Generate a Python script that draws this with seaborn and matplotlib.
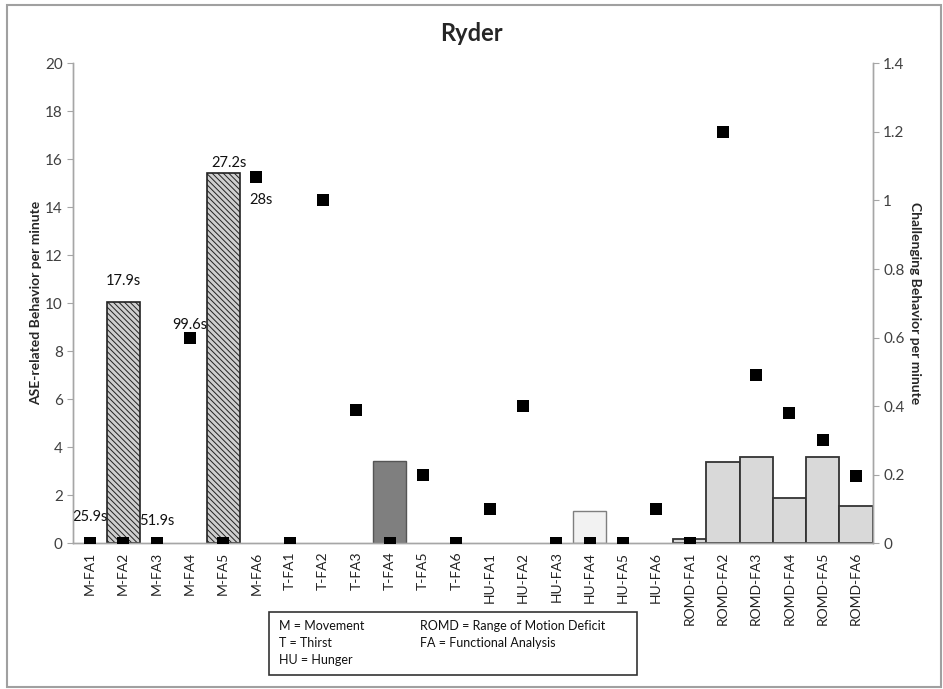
import matplotlib
matplotlib.use("Agg")
import matplotlib.pyplot as plt
import seaborn as sns
import numpy as np
import pandas as pd
from matplotlib.patches import Rectangle

categories = ["M-FA1", "M-FA2", "M-FA3", "M-FA4", "M-FA5", "M-FA6",
              "T-FA1", "T-FA2", "T-FA3", "T-FA4", "T-FA5", "T-FA6",
              "HU-FA1", "HU-FA2", "HU-FA3", "HU-FA4", "HU-FA5", "HU-FA6",
              "ROMD-FA1", "ROMD-FA2", "ROMD-FA3", "ROMD-FA4", "ROMD-FA5", "ROMD-FA6"]
ase_per_min = [0, 10.05, 0, 0, 15.45, 0,
               0, 0, 0, 3.43, 0, 0,
               0, 0, 0, 1.35, 0, 0,
               0.18, 3.4, 3.6, 1.9, 3.6, 1.57]
challenging_per_min = [0, 0, 0, 0.6, 0, 1.07,
                       0, 1.0, 0.39, 0, 0.2, 0,
                       0.1, 0.4, 0, 0, 0, 0.1,
                       0, 1.2, 0.49, 0.38, 0.3, 0.195]
groups = ["M"] * 6 + ["T"] * 6 + ["HU"] * 6 + ["ROMD"] * 6
# duration annotations: (category, text, y on left axis)
annot_cats = ["M-FA1", "M-FA2", "M-FA3", "M-FA4", "M-FA5", "M-FA6"]
annot_text = ["25.9s", "17.9s", "51.9s", "99.6s", "27.2s", "28s"]
annot_y = [1.1, 10.95, 0.92, 9.1, 15.85, 14.3]
annot_dx = [0, 0, 0, 0, 0.18, 0.15]
legend_left = ["M = Movement", "T = Thirst", "HU = Hunger"]
legend_right = ["ROMD = Range of Motion Deficit", "FA = Functional Analysis"]

sns.set_style("white")
plt.rcParams['font.family'] = ['Lato', 'DejaVu Sans']
plt.rcParams['hatch.linewidth'] = 0.7
plt.rcParams['hatch.color'] = '#3a3a3a'

df = pd.DataFrame({"cat": categories, "ase": ase_per_min,
                   "cb": challenging_per_min, "grp": groups})

fig = plt.figure(figsize=(9.43, 6.89), dpi=100)
ax = fig.add_axes([0.0777, 0.2115, 0.8478, 0.6965])

sns.barplot(data=df, x="cat", y="ase", ax=ax, width=1.0, color="white",
            order=categories, errorbar=None, saturation=1)

styles = {
    "M": dict(facecolor="#cfcfcf", edgecolor="#222222", hatch="\\\\\\\\\\\\", lw=1.2),
    "T": dict(facecolor="#7f7f7f", edgecolor="#555555", hatch=None, lw=1.0),
    "HU": dict(facecolor="#f2f2f2", edgecolor="#7f7f7f", hatch=None, lw=1.0),
    "ROMD": dict(facecolor="#d9d9d9", edgecolor="#333333", hatch=None, lw=1.3),
}
for patch, g, v in zip(ax.patches, groups, ase_per_min):
    s = styles[g]
    patch.set_facecolor(s["facecolor"])
    patch.set_edgecolor(s["edgecolor"])
    patch.set_linewidth(s["lw"] if v > 0 else 0)
    if s["hatch"]:
        patch.set_hatch(s["hatch"])

ax.set_ylim(0, 20)
ax.set_xlim(-0.5, len(categories) - 0.5)
ax.set_yticks(np.arange(0, 21, 2))
ax.set_ylabel("ASE-related Behavior per minute", fontsize=10, fontweight="bold",
              labelpad=2)
ax.set_xlabel("")

ax2 = ax.twinx()
sns.stripplot(data=df, x="cat", y="cb", ax=ax2, order=categories, jitter=False,
              marker="s", size=8, color="black", linewidth=0, zorder=5)
ax2.set_ylim(0, 1.4)
ax2.set_yticks([0, 0.2, 0.4, 0.6, 0.8, 1.0, 1.2, 1.4])
ax2.set_yticklabels(["0", "0.2", "0.4", "0.6", "0.8", "1", "1.2", "1.4"])
ax2.set_xlim(-0.5, len(categories) - 0.5)
ax2.set_ylabel("Challenging Behavior per minute", fontsize=10, fontweight="bold",
               rotation=270, labelpad=12)
ax2.set_xlabel("")

for a in (ax, ax2):
    a.spines["top"].set_visible(False)
    for sp in ("left", "right", "bottom"):
        a.spines[sp].set_color("#a6a6a6")
        a.spines[sp].set_linewidth(1.0)
    a.tick_params(axis="y", colors="#404040", labelsize=11, length=4,
                  direction="out", width=0.8)
    a.tick_params(axis="y", color="#a6a6a6")
ax.tick_params(axis="x", labelsize=10, labelrotation=90, colors="#222222",
               length=0, pad=6)
ax2.tick_params(axis="x", length=0)

pos = {c: i for i, c in enumerate(categories)}
for c, t, y, dx in zip(annot_cats, annot_text, annot_y, annot_dx):
    ax.text(pos[c] + dx, y, t, ha="center", va="center", fontsize=10.5,
            color="#111111")

fig.text(0.5, 0.952, "Ryder", ha="center", va="center", fontsize=17,
         fontweight="bold")

# legend text box
fig.patches.append(Rectangle((269 / 943, 1 - 675 / 689), 368 / 943, 63 / 689,
                             transform=fig.transFigure, fill=False,
                             edgecolor="#333333", lw=1.2))
for i, t in enumerate(legend_left):
    fig.text(279 / 943, 1 - (626 + 17 * i) / 689, t, ha="left", va="center",
             fontsize=9, color="#111111")
for i, t in enumerate(legend_right):
    fig.text(420 / 943, 1 - (626 + 17 * i) / 689, t, ha="left", va="center",
             fontsize=9, color="#111111")

# outer frame
fig.patches.append(Rectangle((7 / 943, 1 - 687 / 689), 934 / 943, 682 / 689,
                             transform=fig.transFigure, fill=False,
                             edgecolor="#a0a0a0", lw=1.5))

fig.savefig("out.png", dpi=100)
